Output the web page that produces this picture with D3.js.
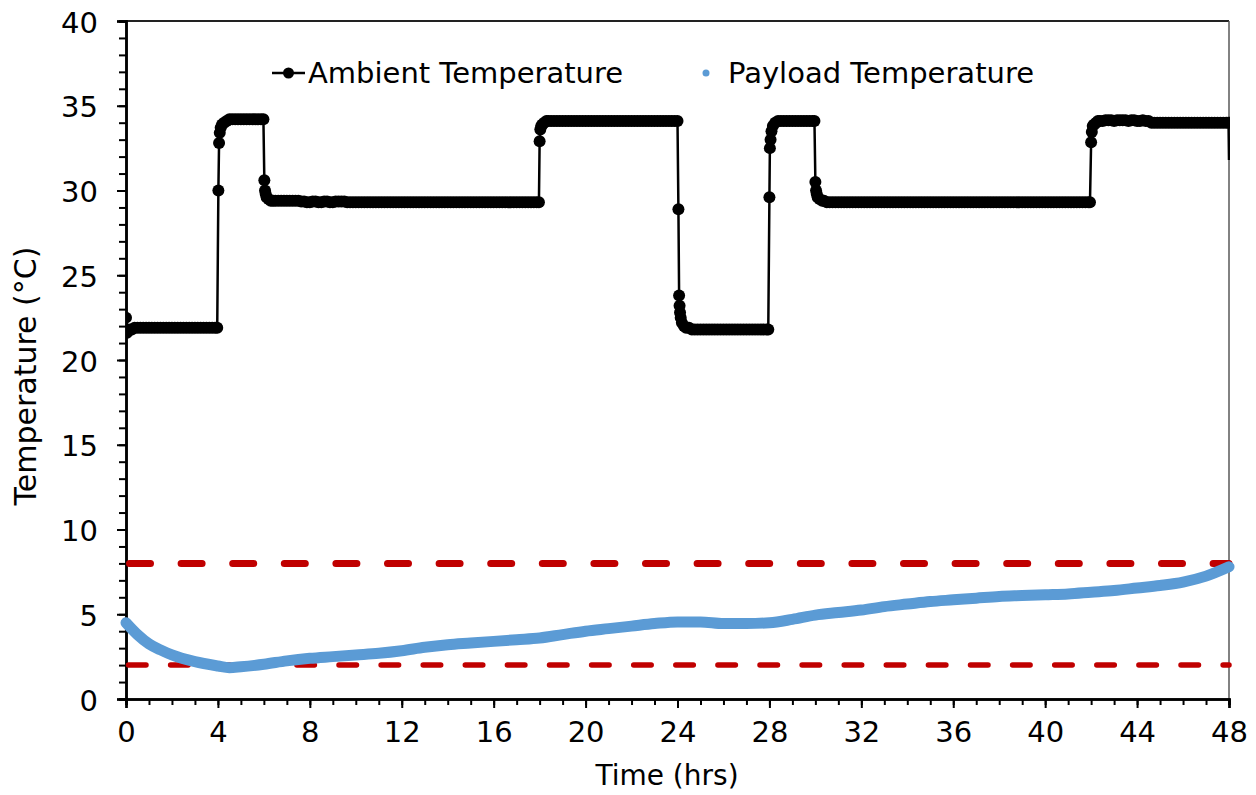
<!DOCTYPE html>
<html>
<head>
<meta charset="utf-8">
<script src="https://cdn.jsdelivr.net/npm/d3@7"></script>
<style>
body { margin: 0; background: #fff; }
text { font-family: "DejaVu Sans", sans-serif; fill: #000; }
</style>
</head>
<body>
<div id="chart"></div>
<script>
var WIDTH = 1256
var HEIGHT = 795

// ambient chamber readings [hrs, degC]
var ambient = [
  [0,22.5],[0.04,21.6],[0.08,21.7],
  [0.125,21.8],[0.25,21.8],[0.375,21.9],[0.5,21.9],[0.625,21.9],[0.75,21.9],[0.875,21.9],[1,21.9],
  [1.125,21.9],[1.25,21.9],[1.375,21.9],[1.5,21.9],[1.625,21.9],[1.75,21.9],[1.875,21.9],[2,21.9],
  [2.125,21.9],[2.25,21.9],[2.375,21.9],[2.5,21.9],[2.625,21.9],[2.75,21.9],[2.875,21.9],[3,21.9],
  [3.125,21.9],[3.25,21.9],[3.375,21.9],[3.5,21.9],[3.625,21.9],[3.75,21.9],[3.875,21.9],[3.97,21.9],
  [4.02,30.0],[4.05,32.8],[4.08,33.4],[4.12,33.7],[4.18,33.9],[4.27,34.0],[4.38,34.1],
  [4.5,34.2],[4.625,34.2],[4.75,34.2],[4.875,34.2],[5,34.2],[5.125,34.2],[5.25,34.2],[5.375,34.2],
  [5.5,34.2],[5.625,34.2],[5.75,34.2],[5.875,34.2],[5.98,34.2],
  [6.02,30.6],[6.05,30.0],[6.08,29.8],[6.12,29.6],[6.2,29.5],[6.3,29.4],[6.4,29.4],
  [6.5,29.4],[6.625,29.4],[6.75,29.4],[6.875,29.4],[7,29.4],[7.125,29.4],[7.25,29.4],[7.375,29.4],
  [7.5,29.4],[7.625,29.35],[7.75,29.35],[7.875,29.3],[8,29.3],[8.125,29.35],[8.25,29.35],[8.375,29.3],
  [8.5,29.3],[8.625,29.35],[8.75,29.35],[8.875,29.3],[9,29.3],[9.125,29.35],[9.25,29.35],[9.375,29.35],
  [9.5,29.35],[9.625,29.3],[9.75,29.3],[9.875,29.3],[10,29.3],[10.125,29.3],[10.25,29.3],[10.375,29.3],
  [10.5,29.3],[10.625,29.3],[10.75,29.3],[10.875,29.3],[11,29.3],[11.125,29.3],[11.25,29.3],[11.375,29.3],
  [11.5,29.3],[11.625,29.3],[11.75,29.3],[11.875,29.3],[12,29.3],[12.125,29.3],[12.25,29.3],[12.375,29.3],
  [12.5,29.3],[12.625,29.3],[12.75,29.3],[12.875,29.3],[13,29.3],[13.125,29.3],[13.25,29.3],[13.375,29.3],
  [13.5,29.3],[13.625,29.3],[13.75,29.3],[13.875,29.3],[14,29.3],[14.125,29.3],[14.25,29.3],[14.375,29.3],
  [14.5,29.3],[14.625,29.3],[14.75,29.3],[14.875,29.3],[15,29.3],[15.125,29.3],[15.25,29.3],[15.375,29.3],
  [15.5,29.3],[15.625,29.3],[15.75,29.3],[15.875,29.3],[16,29.3],[16.125,29.3],[16.25,29.3],[16.375,29.3],
  [16.5,29.3],[16.625,29.3],[16.75,29.3],[16.875,29.3],[17,29.3],[17.125,29.3],[17.25,29.3],[17.375,29.3],
  [17.5,29.3],[17.625,29.3],[17.75,29.3],[17.875,29.3],[17.97,29.3],
  [18,32.9],[18.03,33.6],[18.07,33.8],[18.12,33.9],[18.2,34.0],[18.3,34.1],[18.375,34.1],
  [18.5,34.1],[18.625,34.1],[18.75,34.1],[18.875,34.1],[19,34.1],[19.125,34.1],[19.25,34.1],[19.375,34.1],
  [19.5,34.1],[19.625,34.1],[19.75,34.1],[19.875,34.1],[20,34.1],[20.125,34.1],[20.25,34.1],[20.375,34.1],
  [20.5,34.1],[20.625,34.1],[20.75,34.1],[20.875,34.1],[21,34.1],[21.125,34.1],[21.25,34.1],[21.375,34.1],
  [21.5,34.1],[21.625,34.1],[21.75,34.1],[21.875,34.1],[22,34.1],[22.125,34.1],[22.25,34.1],[22.375,34.1],
  [22.5,34.1],[22.625,34.1],[22.75,34.1],[22.875,34.1],[23,34.1],[23.125,34.1],[23.25,34.1],[23.375,34.1],
  [23.5,34.1],[23.625,34.1],[23.75,34.1],[23.875,34.1],[24,34.1],
  [24.04,28.9],[24.07,23.8],[24.09,23.2],[24.11,22.8],[24.14,22.5],[24.19,22.2],[24.28,22.0],[24.375,21.9],
  [24.5,21.9],[24.625,21.8],[24.75,21.8],[24.875,21.8],[25,21.8],[25.125,21.8],[25.25,21.8],[25.375,21.8],
  [25.5,21.8],[25.625,21.8],[25.75,21.8],[25.875,21.8],[26,21.8],[26.125,21.8],[26.25,21.8],[26.375,21.8],
  [26.5,21.8],[26.625,21.8],[26.75,21.8],[26.875,21.8],[27,21.8],[27.125,21.8],[27.25,21.8],[27.375,21.8],
  [27.5,21.8],[27.625,21.8],[27.75,21.8],[27.875,21.8],[27.95,21.8],
  [28,29.6],[28.02,32.5],[28.05,33.0],[28.09,33.5],[28.15,33.8],[28.25,34.0],[28.375,34.1],
  [28.5,34.1],[28.625,34.1],[28.75,34.1],[28.875,34.1],[29,34.1],[29.125,34.1],[29.25,34.1],[29.375,34.1],
  [29.5,34.1],[29.625,34.1],[29.75,34.1],[29.875,34.1],[29.96,34.1],
  [30,30.5],[30.03,30.0],[30.06,29.8],[30.1,29.6],[30.18,29.5],[30.3,29.4],[30.375,29.4],
  [30.5,29.3],[30.625,29.3],[30.75,29.3],[30.875,29.3],[31,29.3],[31.125,29.3],[31.25,29.3],[31.375,29.3],
  [31.5,29.3],[31.625,29.3],[31.75,29.3],[31.875,29.3],[32,29.3],[32.125,29.3],[32.25,29.3],[32.375,29.3],
  [32.5,29.3],[32.625,29.3],[32.75,29.3],[32.875,29.3],[33,29.3],[33.125,29.3],[33.25,29.3],[33.375,29.3],
  [33.5,29.3],[33.625,29.3],[33.75,29.3],[33.875,29.3],[34,29.3],[34.125,29.3],[34.25,29.3],[34.375,29.3],
  [34.5,29.3],[34.625,29.3],[34.75,29.3],[34.875,29.3],[35,29.3],[35.125,29.3],[35.25,29.3],[35.375,29.3],
  [35.5,29.3],[35.625,29.3],[35.75,29.3],[35.875,29.3],[36,29.3],[36.125,29.3],[36.25,29.3],[36.375,29.3],
  [36.5,29.3],[36.625,29.3],[36.75,29.3],[36.875,29.3],[37,29.3],[37.125,29.3],[37.25,29.3],[37.375,29.3],
  [37.5,29.3],[37.625,29.3],[37.75,29.3],[37.875,29.3],[38,29.3],[38.125,29.3],[38.25,29.3],[38.375,29.3],
  [38.5,29.3],[38.625,29.3],[38.75,29.3],[38.875,29.3],[39,29.3],[39.125,29.3],[39.25,29.3],[39.375,29.3],
  [39.5,29.3],[39.625,29.3],[39.75,29.3],[39.875,29.3],[40,29.3],[40.125,29.3],[40.25,29.3],[40.375,29.3],
  [40.5,29.3],[40.625,29.3],[40.75,29.3],[40.875,29.3],[41,29.3],[41.125,29.3],[41.25,29.3],[41.375,29.3],
  [41.5,29.3],[41.625,29.3],[41.75,29.3],[41.875,29.3],[41.95,29.3],
  [42,32.85],[42.03,33.45],[42.07,33.8],[42.13,33.9],[42.22,34.0],[42.3,34.1],[42.375,34.1],
  [42.5,34.1],[42.625,34.15],[42.75,34.15],[42.875,34.15],[43,34.1],[43.125,34.15],[43.25,34.15],[43.375,34.15],
  [43.5,34.15],[43.625,34.1],[43.75,34.15],[43.875,34.15],[44,34.1],[44.125,34.1],[44.25,34.15],[44.375,34.1],
  [44.5,34.1],[44.625,34.0],[44.75,34.0],[44.875,34.0],[45,34.0],[45.125,34.0],[45.25,34.0],[45.375,34.0],
  [45.5,34.0],[45.625,34.0],[45.75,34.0],[45.875,34.0],[46,34.0],[46.125,34.0],[46.25,34.0],[46.375,34.0],
  [46.5,34.0],[46.625,34.0],[46.75,34.0],[46.875,34.0],[47,34.0],[47.125,34.0],[47.25,34.0],[47.375,34.0],
  [47.5,34.0],[47.625,34.0],[47.75,34.0],[47.875,34.0],[47.98,34.0],[48,31.8]
]

// payload probe readings [hrs, degC]
var payload = [
  [0,4.5],[0.5,3.8],[1,3.25],[1.5,2.9],[2,2.6],[3,2.2],[4,1.95],[4.5,1.85],[5,1.9],[6,2.05],[7,2.25],[8,2.4],[9,2.5],
  [10,2.6],[11,2.7],[12,2.85],[13,3.05],[14,3.2],[15,3.3],[16,3.4],[17,3.5],[18,3.6],[19,3.8],[20,4.0],[21,4.15],
  [22,4.3],[23,4.45],[24,4.55],[25,4.55],[26,4.45],[27,4.45],[28,4.5],[29,4.7],[30,4.95],[31,5.1],[32,5.25],[33,5.45],
  [34,5.6],[35,5.75],[36,5.85],[37,5.95],[38,6.05],[39,6.1],[40,6.15],[41,6.2],[42,6.3],[43,6.4],[44,6.55],[45,6.7],
  [46,6.9],[47,7.25],[48,7.8]
]

var limits = [8, 2]
var xTicks = [0,4,8,12,16,20,24,28,32,36,40,44,48]
var yTicks = [0,5,10,15,20,25,30,35,40]
var seriesNames = ["Ambient Temperature", "Payload Temperature"]

var svg = d3.select("#chart").append("svg")
    .attr("width", WIDTH)
    .attr("height", HEIGHT)

var x = d3.scaleLinear().domain([0, 48]).range([126, 1229])
var y = d3.scaleLinear().domain([0, 40]).range([699, 21])

// frame top/right
svg.append("line")
    .attr("x1", x(0)).attr("x2", x(48)).attr("y1", y(40)).attr("y2", y(40))
    .attr("stroke", "#222").attr("stroke-width", 2)
svg.append("line")
    .attr("x1", x(48)).attr("x2", x(48)).attr("y1", y(40)).attr("y2", y(0))
    .attr("stroke", "#595959").attr("stroke-width", 1.5)

// minor ticks
svg.append("g")
    .attr("transform", "translate(" + x(0) + ",0)")
    .call(d3.axisLeft(y).tickValues(d3.range(0, 41, 1)).tickSize(7).tickFormat(""))
svg.append("g")
    .attr("transform", "translate(0," + y(0) + ")")
    .call(d3.axisBottom(x).tickValues(d3.range(0, 49, 1)).tickSize(6).tickFormat(""))

// major ticks + labels
var yAxis = svg.append("g")
    .attr("transform", "translate(" + x(0) + ",0)")
    .call(d3.axisLeft(y).tickValues(yTicks).tickSize(9).tickPadding(19))
var xAxis = svg.append("g")
    .attr("transform", "translate(0," + y(0) + ")")
    .call(d3.axisBottom(x).tickValues(xTicks).tickSize(9).tickPadding(13))

svg.selectAll(".domain").attr("stroke", "#000").attr("stroke-width", 2.5)
svg.selectAll(".tick line").attr("stroke", "#000").attr("stroke-width", 2)
yAxis.selectAll("text").attr("font-size", 29).attr("dy", "0.38em").attr("font-family", "DejaVu Sans")
xAxis.selectAll("text").attr("font-size", 29).attr("font-family", "DejaVu Sans")

// limit lines
svg.selectAll(".limit")
    .data(limits)
    .enter()
    .append("line")
    .attr("class", "limit")
    .attr("x1", function(d, i){ return x(0) + (i == 0 ? 3.5 : 2.5) })
    .attr("x2", x(48))
    .attr("y1", function(d){ return y(d) })
    .attr("y2", function(d){ return y(d) })
    .attr("stroke", "#C00000")
    .attr("stroke-width", function(d, i){ return i == 0 ? 7 : 5.5 })
    .attr("stroke-linecap", "round")
    .attr("stroke-dasharray", function(d, i){ return i == 0 ? "21,30.6" : "17.5,24.6" })

svg.append("clipPath").attr("id", "plotclip")
    .append("rect").attr("x", x(0)).attr("y", 0).attr("width", x(48) - x(0) + 1).attr("height", y(0))

// payload
var payloadLine = d3.line()
    .x(function(d){ return x(d[0]) })
    .y(function(d){ return y(d[1]) })
    .curve(d3.curveMonotoneX)
svg.append("path")
    .datum(payload)
    .attr("d", payloadLine)
    .attr("fill", "none")
    .attr("stroke", "#5B9BD5")
    .attr("stroke-width", 11)
    .attr("stroke-linecap", "round")
    .attr("stroke-linejoin", "round")

// ambient
var ambLine = d3.line()
    .x(function(d){ return x(d[0]) })
    .y(function(d){ return y(d[1]) })
var ambG = svg.append("g").attr("clip-path", "url(#plotclip)")
ambG.append("path")
    .datum(ambient)
    .attr("d", ambLine)
    .attr("fill", "none")
    .attr("stroke", "#000")
    .attr("stroke-width", 2.5)
ambG.selectAll(".dot")
    .data(ambient.filter(function(d){ return d[0] < 48 }))
    .enter()
    .append("circle")
    .attr("class", "dot")
    .attr("cx", function(d){ return x(d[0]) })
    .attr("cy", function(d){ return y(d[1]) })
    .attr("r", 6)
    .attr("fill", "#000")

// legend
var leg = svg.append("g")
leg.append("line").attr("x1", 272).attr("x2", 305).attr("y1", 73).attr("y2", 73)
    .attr("stroke", "#000").attr("stroke-width", 2.5)
leg.append("circle").attr("cx", 288.5).attr("cy", 73).attr("r", 5.5).attr("fill", "#000")
leg.append("text").attr("x", 308).attr("y", 83).attr("font-size", 29).text(seriesNames[0])
leg.append("circle").attr("cx", 706).attr("cy", 73).attr("r", 3.5).attr("fill", "#5B9BD5")
leg.append("text").attr("x", 728).attr("y", 83).attr("font-size", 29).text(seriesNames[1])

// axis titles
svg.append("text")
    .attr("transform", "translate(36," + 376 + ") rotate(-90)")
    .attr("text-anchor", "middle")
    .attr("font-size", 30)
    .text("Temperature (°C)")
svg.append("text")
    .attr("x", 667)
    .attr("y", 785)
    .attr("text-anchor", "middle")
    .attr("font-size", 28)
    .text("Time (hrs)")
</script>
</body>
</html>
